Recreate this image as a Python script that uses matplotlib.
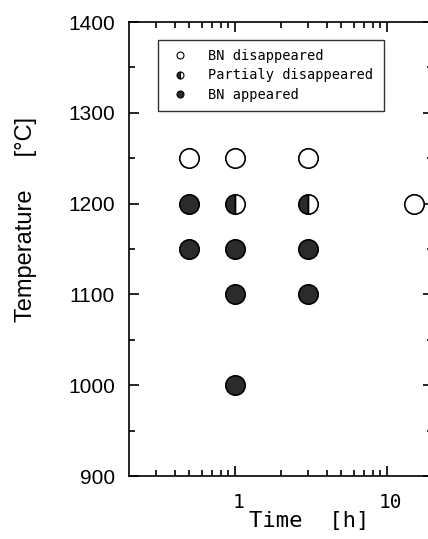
import matplotlib.pyplot as plt
import matplotlib.transforms as mtransforms
from matplotlib.ticker import FixedLocator, NullFormatter
import numpy as np

# time [h] and temperature [C] for each outcome
t_gone = [0.5, 1, 3, 15]
T_gone = [1250, 1250, 1250, 1200]
t_part = [1, 3]
T_part = [1200, 1200]
t_bn = [0.5, 0.5, 1, 1, 1, 3, 3]
T_bn = [1200, 1150, 1150, 1100, 1000, 1150, 1100]

labels = ['BN disappeared', 'Partialy disappeared', 'BN appeared']

fig = plt.figure(figsize=(4.28, 5.39), dpi=100)
ax = fig.add_axes([129 / 428, 1 - 476 / 539, 304 / 428, 454 / 539])

dark = '#2b2b2b'
ms = 14
ax.plot(t_gone, T_gone, 'o', ms=ms, mfc='white', mec='black', mew=1.2, ls='none')
ax.plot(t_part, T_part, 'o', ms=ms, fillstyle='left', mfc=dark, mfcalt='white',
        mec='black', mew=1.2, ls='none')
ax.plot(t_bn, T_bn, 'o', ms=ms, mfc=dark, mec='black', mew=1.2, ls='none')

ax.set_xscale('log')
ax.set_xlim(0.2, 20)
ax.set_ylim(900, 1400)
ax.xaxis.set_major_locator(FixedLocator([1, 10]))
ax.xaxis.set_minor_locator(FixedLocator([0.3, 0.4, 0.5, 0.6, 0.7, 0.8, 0.9,
                                         2, 3, 4, 5, 6, 7, 8, 9]))
ax.xaxis.set_minor_formatter(NullFormatter())
ax.set_xticks([1, 10], ['1', '10'])
ax.set_yticks(np.arange(900, 1401, 100))
ax.set_yticks(np.arange(950, 1400, 100), minor=True)

ax.tick_params(which='both', direction='in', top=True, right=True, width=1.2)
ax.tick_params(which='major', length=7)
ax.tick_params(which='minor', length=4)
ax.tick_params(axis='y', labelsize=15, pad=10)
for lab in ax.get_yticklabels():
    lab.set_family('Liberation Sans')
ax.tick_params(axis='x', labelsize=14, pad=12)
shift = mtransforms.ScaledTranslation(3 / 100, 0, fig.dpi_scale_trans)
for lab in ax.get_xticklabels():
    lab.set_family('DejaVu Sans Mono')
    lab.set_transform(lab.get_transform() + shift)
for s in ax.spines.values():
    s.set_linewidth(1.2)

fig.text(26 / 428, 1 - 220 / 539, 'Temperature     [°C]', rotation=90, ha='center',
         va='center', fontsize=17, family='Liberation Sans')
fig.text(309 / 428, 1 - 521 / 539, 'Time  [h]', ha='center', va='center',
         fontsize=16, family='DejaVu Sans Mono')

h = [plt.Line2D([], [], marker='o', ls='none', ms=5, mfc='white', mec='black', mew=0.8),
     plt.Line2D([], [], marker='o', ls='none', ms=5, fillstyle='left', mfc=dark,
                mfcalt='white', mec='black', mew=0.8),
     plt.Line2D([], [], marker='o', ls='none', ms=5, mfc=dark, mec='black', mew=0.8)]
leg = ax.legend(h, labels, loc='upper left', mode='expand',
                bbox_to_anchor=(0.0954, 0.0, 0.743, 0.960),
                frameon=True, fancybox=False, edgecolor='black',
                prop={'family': 'DejaVu Sans Mono', 'size': 9.8},
                handlelength=1.9, handletextpad=1.15, labelspacing=0.4,
                borderpad=0.65, borderaxespad=0)
leg.get_frame().set_linewidth(1.0)

fig.savefig('out.png', dpi=100)
